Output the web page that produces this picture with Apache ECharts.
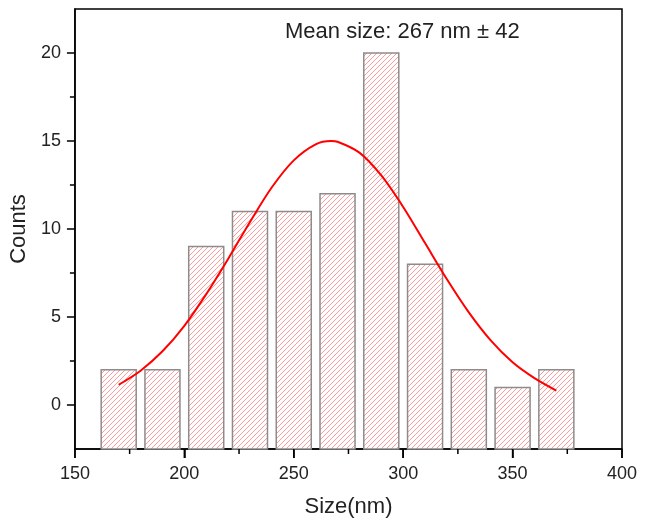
<!DOCTYPE html>
<html>
<head>
<meta charset="utf-8">
<script src="https://cdn.jsdelivr.net/npm/echarts@6/dist/echarts.min.js"></script>
<style>
html,body{margin:0;padding:0;background:#fff;}
#chart{width:654px;height:526px;}
</style>
</head>
<body>
<div id="chart"></div>
<script>
// ---- data ----
const binCenters = [170, 190, 210, 230, 250, 270, 290, 310, 330, 350, 370];
const counts = [2, 2, 9, 11, 11, 12, 20, 8, 2, 1, 2];
const fitX = [170, 180, 190, 200, 210, 220, 230, 240, 250, 260, 267, 270, 280, 290, 300, 310, 320, 330, 340, 350, 360, 370];
const fitY = [1.15, 1.95, 3.05, 4.5, 6.3, 8.3, 10.4, 12.37, 13.9, 14.81, 15, 14.96, 14.34, 13.04, 11.25, 9.2, 7.14, 5.26, 3.67, 2.43, 1.53, 0.82];
const xTicks = [150, 200, 250, 300, 350, 400];
const xMinorTicks = [175, 225, 275, 325, 375];
const yTicks = [0, 5, 10, 15, 20];
const yMinorTicks = [2.5, 7.5, 12.5, 17.5];
const annotation = 'Mean size: 267 nm \u00b1 42';

// ---- styling ----
const Y_MIN = -2.5, Y_MAX = 22.5;
const BIN_HALF = 8;
const FONT = '"Liberation Sans", Arial, sans-serif';

function hatch() {
  const s = 5;
  const c = document.createElement('canvas');
  c.width = s; c.height = s;
  const g = c.getContext('2d');
  g.fillStyle = '#ffffff';
  g.fillRect(0, 0, s, s);
  g.strokeStyle = '#ff9a9a';
  g.lineWidth = 1;
  g.beginPath();
  g.moveTo(0, s); g.lineTo(s, 0);
  g.moveTo(-s / 2, s / 2); g.lineTo(s / 2, -s / 2);
  g.moveTo(s / 2, s * 1.5); g.lineTo(s * 1.5, s / 2);
  g.stroke();
  return { image: c, repeat: 'repeat' };
}
const pattern = hatch();

const chart = echarts.init(document.getElementById('chart'), null, { renderer: 'canvas' });

function ts(w) { return { color: '#000', width: w || 1.5 }; }

// outward x-axis tick marks placed through the axis scale
function tickSeries(values, len) {
  return {
    type: 'custom',
    clip: false,
    silent: true,
    z: 5,
    data: values.map(v => [v, Y_MIN]),
    renderItem: function (params, api) {
      const p = api.coord([api.value(0), Y_MIN]);
      return {
        type: 'line',
        shape: { x1: p[0], y1: p[1], x2: p[0], y2: p[1] + len },
        style: { stroke: '#000', lineWidth: 1.5 }
      };
    }
  };
}

const option = {
  backgroundColor: '#ffffff',
  animation: false,
  textStyle: { fontFamily: FONT },
  grid: { left: 74, right: 32, top: 9, bottom: 77, show: true, borderColor: '#000', borderWidth: 1.5 },
  xAxis: {
    type: 'value', min: xTicks[0], max: xTicks[xTicks.length - 1],
    splitLine: { show: false },
    axisLine: { show: true, onZero: false, lineStyle: ts() },
    axisTick: { show: true, inside: false, length: 9, customValues: xTicks, lineStyle: ts() },
    axisLabel: { fontSize: 18, color: '#222', margin: 16, customValues: xTicks, fontFamily: FONT },
    name: 'Size(nm)', nameLocation: 'middle', nameGap: 47,
    nameTextStyle: { fontSize: 22, color: '#222', fontFamily: FONT }
  },
  yAxis: [{
    type: 'value', min: Y_MIN, max: Y_MAX,
    splitLine: { show: false },
    axisLine: { show: true, onZero: false, lineStyle: ts() },
    axisTick: { show: true, inside: false, length: 8, customValues: yTicks, lineStyle: ts() },
    axisLabel: { fontSize: 18, color: '#222', margin: 14, customValues: yTicks, fontFamily: FONT },
    name: 'Counts', nameLocation: 'middle', nameGap: 41, nameRotate: 90,
    nameTextStyle: { fontSize: 22, color: '#222', fontFamily: FONT }
  }, {
    type: 'value', min: Y_MIN, max: Y_MAX, position: 'left',
    splitLine: { show: false },
    axisLine: { show: false, onZero: false },
    axisLabel: { show: false },
    axisTick: { show: true, inside: false, length: 5, customValues: yMinorTicks, lineStyle: ts() }
  }],
  graphic: [{
    type: 'text', left: 285, top: 21,
    style: { text: annotation, fontSize: 22, fill: '#222', fontFamily: FONT }
  }],
  series: [{
    type: 'custom',
    data: binCenters.map((x, i) => [x, counts[i]]),
    renderItem: function (params, api) {
      const x = api.value(0), y = api.value(1);
      const p1 = api.coord([x - BIN_HALF, y]);
      const p2 = api.coord([x + BIN_HALF, Y_MIN]);
      return {
        type: 'rect',
        shape: { x: p1[0], y: p1[1], width: p2[0] - p1[0], height: p2[1] - p1[1] },
        style: { fill: pattern, stroke: '#8c8c8c', lineWidth: 1.5 }
      };
    },
    z: 2
  }, {
    type: 'line',
    data: fitX.map((x, i) => [x, fitY[i]]),
    smooth: 0.3,
    showSymbol: false,
    lineStyle: { color: '#ff0000', width: 2 },
    z: 3
  }, tickSeries(xTicks, 9), tickSeries(xMinorTicks, 5)]
};
chart.setOption(option);
</script>
</body>
</html>
